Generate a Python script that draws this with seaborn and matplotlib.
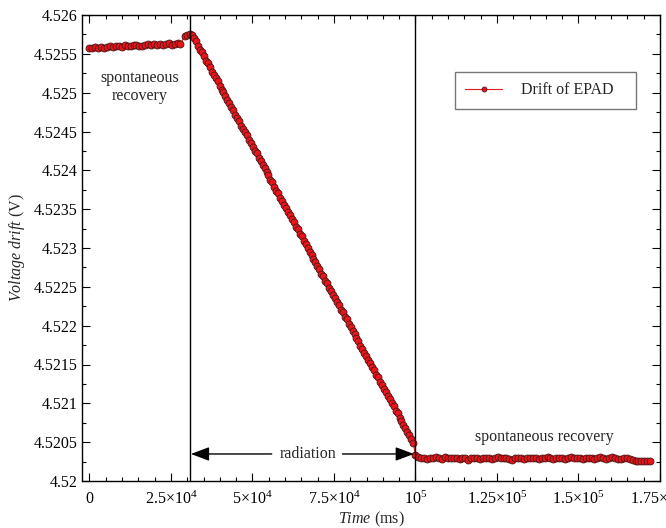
import numpy as np
import pandas as pd
import matplotlib
matplotlib.use("Agg")
import matplotlib.pyplot as plt
from matplotlib.ticker import FixedLocator, FixedFormatter, FuncFormatter, MultipleLocator
import seaborn as sns

# ---------------- data (voltage offsets in microvolts above 4.52 V) ----------------
base_volt = 4.52

# spontaneous recovery before radiation (time step 900 ms)
t_pre_start, t_pre_step = 0, 900
v_pre = [5578, 5572, 5585, 5580, 5590, 5576, 5588, 5595, 5583, 5598,
         5604, 5592, 5610, 5605, 5598, 5612, 5620, 5606, 5601, 5615,
         5622, 5610, 5625, 5618, 5630, 5612, 5624, 5635, 5620, 5628,
         5640, 5632]

# peak at radiation onset
t_peak = [29300, 30000, 30700, 31400]
v_peak = [5730, 5748, 5750, 5738]

# radiation (time step 600 ms)
t_rad_start, t_rad_step = 32100, 600
v_rad = [5700, 5660, 5600, 5548, 5520, 5470, 5410, 5380, 5335, 5270,
         5228, 5195, 5150, 5090, 5040, 5010, 4960, 4900, 4870, 4810,
         4775, 4718, 4680, 4640, 4575, 4530, 4495, 4450, 4390, 4355,
         4300, 4250, 4220, 4160, 4125, 4065, 4030, 3975, 3940, 3880,
         3845, 3790, 3740, 3705, 3650, 3610, 3555, 3520, 3460, 3425,
         3370, 3335, 3275, 3240, 3185, 3150, 3090, 3055, 3000, 2950,
         2915, 2860, 2820, 2765, 2730, 2670, 2635, 2580, 2545, 2485,
         2450, 2395, 2355, 2300, 2265, 2205, 2170, 2115, 2080, 2020,
         1985, 1930, 1890, 1835, 1800, 1740, 1705, 1650, 1615, 1555,
         1520, 1465, 1425, 1370, 1335, 1275, 1240, 1185, 1150, 1090,
         1055, 1000, 960, 905, 870, 810, 775, 720, 685, 625,
         590, 535, 490]

# spontaneous recovery after radiation (time step 900 ms)
t_post_start, t_post_step = 100000, 900
v_post = [330, 305, 290, 298, 285, 300, 292, 305, 296, 288,
          310, 302, 295, 290, 300, 285, 292, 298, 270, 290,
          300, 295, 288, 302, 296, 292, 285, 300, 305, 294,
          290, 298, 288, 275, 292, 300, 296, 285, 290, 302,
          298, 292, 283, 295, 300, 305, 290, 288, 296, 301,
          292, 285, 298, 305, 295, 290, 300, 288, 296, 302,
          294, 287, 299, 304, 292, 286, 297, 303, 290, 288,
          283, 295, 300, 285, 270, 262, 258, 260, 255, 262, 260]

radiation_on = 30800
radiation_off = 99800

x_tick_values = [0, 25000, 50000, 75000, 100000, 125000, 150000, 175000]
x_tick_labels = [r"$0$", r"$2.5{\times}10^{4}$", r"$5{\times}10^{4}$", r"$7.5{\times}10^{4}$",
                 r"$10^{5}$", r"$1.25{\times}10^{5}$", r"$1.5{\times}10^{5}$", r"$1.75{\times}10^{5}$"]
y_tick_values = [4.52, 4.5205, 4.521, 4.5215, 4.522, 4.5225, 4.523, 4.5235,
                 4.524, 4.5245, 4.525, 4.5255, 4.526]

# ---------------- build table ----------------
t_pre = t_pre_start + t_pre_step * np.arange(len(v_pre))
t_rad = t_rad_start + t_rad_step * np.arange(len(v_rad))
t_post = t_post_start + t_post_step * np.arange(len(v_post))
t_all = np.concatenate([t_pre, t_peak, t_rad, t_post])
v_all = base_volt + np.concatenate([v_pre, v_peak, v_rad, v_post]) * 1e-6
df = pd.DataFrame({"t": t_all, "v": v_all})

# ---------------- style ----------------
sns.set_theme(style="ticks")
plt.rcParams["font.family"] = ["Liberation Serif", "DejaVu Serif"]
plt.rcParams["mathtext.fontset"] = "custom"
plt.rcParams["mathtext.rm"] = "Liberation Serif"
plt.rcParams["mathtext.it"] = "Liberation Serif:italic"
plt.rcParams["mathtext.bf"] = "Liberation Serif:bold"
plt.rcParams["axes.unicode_minus"] = False

fs = 11.5
fig = plt.figure(figsize=(6.66, 5.28), dpi=100)
ax = fig.add_axes([82 / 666, 1 - 481 / 528, (660 - 82) / 666, (481 - 15) / 528])

sns.lineplot(data=df, x="t", y="v", ax=ax, sort=False, estimator=None,
             color="#e3161c", linewidth=0.8, marker="o", markersize=5.0,
             markerfacecolor="#e8161c", markeredgecolor="#4a1414",
             markeredgewidth=0.6, label="Drift of EPAD")

ax.axvline(radiation_on, color="black", lw=1.0, zorder=5)
ax.axvline(radiation_off, color="black", lw=1.0, zorder=5)

ax.set_xlim(-2300, 175000)
ax.set_ylim(4.52, 4.526)

ax.xaxis.set_major_locator(FixedLocator(x_tick_values))
ax.xaxis.set_major_formatter(FixedFormatter(x_tick_labels))
ax.xaxis.set_minor_locator(MultipleLocator(5000))
ax.yaxis.set_major_locator(FixedLocator(y_tick_values))
ax.yaxis.set_major_formatter(FuncFormatter(lambda v, p: f"{v:.4f}".rstrip("0")))
ax.yaxis.set_minor_locator(MultipleLocator(0.00025))

ax.tick_params(which="both", direction="in", top=True, right=True, labelsize=fs, colors="black")
ax.tick_params(which="major", length=6, width=0.8)
ax.tick_params(which="minor", length=3, width=0.8)
ax.tick_params(axis="x", which="major", pad=7)
ax.tick_params(axis="y", which="major", pad=3)
for s in ax.spines.values():
    s.set_linewidth(1.0)
    s.set_color("black")

ax.set_xlabel(r"$\it{Time}$ (ms)", fontsize=fs, labelpad=1)
ax.set_ylabel(r"$\it{Voltage\ drift}$ (V)", fontsize=fs, labelpad=5)

# annotations
ax.text(15500, 4.525075, "spontaneous\nrecovery", ha="center", va="center",
        fontsize=fs, linespacing=1.2)
ax.text(139500, 4.52057, "spontaneous recovery", ha="center", va="center", fontsize=fs)
ax.text(66900, 4.520348, "radiation", ha="center", va="center", fontsize=fs)
arrow_kw = dict(arrowstyle="-|>,head_length=0.8,head_width=0.3", color="black",
                lw=1.0, mutation_scale=14, shrinkA=0, shrinkB=0)
ax.annotate("", xy=(31100, 4.520348), xytext=(55900, 4.520348), arrowprops=arrow_kw)
ax.annotate("", xy=(99500, 4.520348), xytext=(77600, 4.520348), arrowprops=arrow_kw)

leg = ax.legend(loc="upper left", bbox_to_anchor=(0.645, 0.878), fontsize=fs,
                frameon=True, fancybox=False, edgecolor="#777777", framealpha=1,
                borderpad=0.65, handlelength=2.3, handletextpad=1.2, borderaxespad=0)
leg.get_frame().set_linewidth(1.0)
for h in leg.legend_handles:
    h.set_markersize(3.5)
leg.get_texts()[0].set_text("Drift of EPAD   ")

fig.savefig("out.png", dpi=100)
